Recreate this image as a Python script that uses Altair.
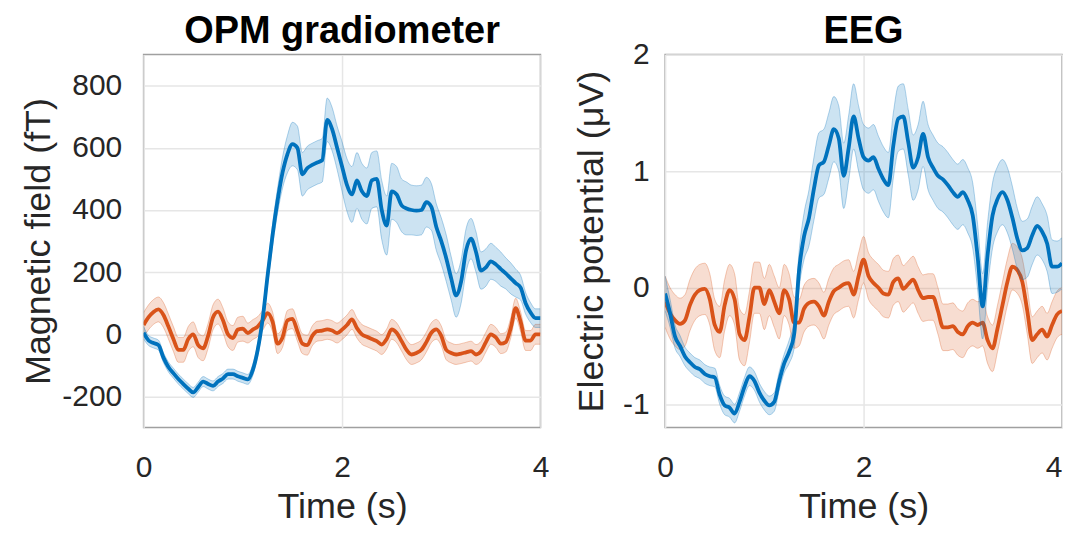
import altair as alt
import pandas as pd

# sample grid (s)
TIME = [round(0.05 * i, 2) for i in range(81)]

# OPM gradiometer (fT)
OPM_BLUE = [5, -20, -28, -35, -75, -105, -125, -144, -160, -175,
            -187, -170, -152, -160, -166, -152, -142, -128, -128, -135,
            -140, -145, -115, -50, 50, 190, 320, 430, 520, 580,
            612, 600, 515, 535, 545, 553, 560, 690, 660, 600,
            540, 480, 450, 495, 460, 445, 495, 500, 400, 350,
            460, 450, 415, 405, 400, 398, 400, 425, 410, 345,
            300, 245, 180, 125, 170, 270, 308, 265, 205, 215,
            235, 225, 210, 196, 180, 165, 150, 100, 70, 52,
            52]
OPM_BLUE_SEM = [20, 16, 16, 16, 16, 16, 16, 16, 16, 16,
                16, 16, 16, 16, 16, 16, 16, 16, 16, 16,
                16, 16, 18, 20, 25, 30, 35, 40, 50, 60,
                70, 70, 70, 70, 70, 70, 70, 70, 70, 70,
                80, 85, 90, 90, 90, 90, 90, 90, 95, 95,
                90, 90, 85, 85, 80, 80, 80, 80, 75, 75,
                75, 75, 70, 70, 70, 70, 65, 65, 60, 60,
                58, 55, 55, 50, 50, 45, 40, 35, 32, 30,
                30]
OPM_ORANGE = [30, 55, 72, 80, 62, 25, -15, -50, -50, -15,
              0, -35, -45, -5, 55, 73, 45, 0, -12, 15,
              18, 4, 15, 25, 45, 68, 40, -30, -10, 45,
              50, 10, -30, -35, -5, 10, 12, 16, 12, 4,
              15, 30, 48, 20, 0, -8, -15, -22, -33, -15,
              16, 5, -22, -50, -65, -60, -50, -25, 5, 16,
              -5, -50, -60, -65, -62, -58, -54, -65, -55, -25,
              0, -10, -30, -25, 20, 84, 40, -20, -20, 0,
              0]
OPM_ORANGE_SEM = [40] * 21 + [32] * 60

# EEG (µV)
EEG_BLUE = [-0.05, -0.22, -0.42, -0.50, -0.59, -0.64, -0.68, -0.70, -0.74, -0.76,
            -0.77, -0.92, -1.01, -1.03, -1.08, -0.98, -0.85, -0.76, -0.80, -0.90,
            -0.97, -1.01, -0.98, -0.80, -0.65, -0.55, -0.40, 0.15, 0.44, 0.60,
            0.85, 1.05, 1.08, 1.22, 1.36, 1.28, 0.96, 1.20, 1.47, 1.28,
            1.12, 1.09, 1.12, 1.02, 0.93, 0.88, 1.22, 1.45, 1.47, 1.25,
            1.03, 1.12, 1.32, 1.12, 1.03, 0.96, 0.93, 0.88, 0.82, 0.78,
            0.82, 0.75, 0.62, 0.26, -0.16, 0.28, 0.62, 0.76, 0.82, 0.75,
            0.60, 0.42, 0.32, 0.34, 0.45, 0.53, 0.48, 0.38, 0.18, 0.18,
            0.21]
EEG_BLUE_SEM = [0.15, 0.12, 0.10, 0.09, 0.08, 0.08, 0.08, 0.08, 0.08, 0.08,
                0.08, 0.08, 0.08, 0.08, 0.08, 0.08, 0.08, 0.08, 0.08, 0.08,
                0.08, 0.08, 0.08, 0.08, 0.08, 0.10, 0.12, 0.16, 0.20, 0.24,
                0.27, 0.28, 0.28, 0.28, 0.28, 0.28, 0.28, 0.28, 0.28, 0.28,
                0.28, 0.28, 0.28, 0.28, 0.28, 0.28, 0.28, 0.28, 0.28, 0.28,
                0.28, 0.28, 0.28, 0.28, 0.28, 0.28, 0.28, 0.28, 0.28, 0.28,
                0.28, 0.28, 0.28, 0.28, 0.28, 0.28, 0.28, 0.28, 0.28, 0.28,
                0.27, 0.26, 0.25, 0.25, 0.25, 0.25, 0.24, 0.24, 0.23, 0.22,
                0.22]
EEG_ORANGE = [-0.12, -0.22, -0.28, -0.31, -0.28, -0.15, -0.06, -0.02, -0.01, -0.10,
              -0.32, -0.38, -0.15, -0.02, -0.10, -0.40, -0.45, -0.25, 0.00, 0.00,
              -0.14, -0.02, -0.12, -0.22, -0.02, -0.10, -0.30, -0.30, -0.18, -0.13,
              -0.12, -0.16, -0.24, -0.12, -0.03, 0.00, 0.03, 0.04, -0.06, 0.10,
              0.24, 0.10, 0.04, 0.00, -0.05, -0.06, 0.05, 0.08, -0.01, 0.03,
              0.07, -0.02, -0.09, -0.08, -0.08, -0.20, -0.34, -0.34, -0.33, -0.38,
              -0.40, -0.33, -0.30, -0.32, -0.30, -0.45, -0.52, -0.35, -0.15, 0.05,
              0.18, 0.15, 0.05, -0.20, -0.45, -0.40, -0.36, -0.42, -0.32, -0.23,
              -0.20]
EEG_ORANGE_SEM = [0.22] * 27 + [0.20] * 54

BLUE = "#0072BD"
ORANGE = "#D95319"
FONT = "Liberation Sans"
TXT = "#262626"


def frame(mean, sem):
    return pd.DataFrame({
        "t": TIME,
        "m": mean,
        "lo": [a - b for a, b in zip(mean, sem)],
        "hi": [a + b for a, b in zip(mean, sem)],
    })


def panel(title, ytitle, blue, bsem, orange, osem, ydom, yvals,
          lpad, tpad, toff, xalign):
    xs = alt.Scale(domain=[0, 4], nice=False, zero=False)
    ys = alt.Scale(domain=ydom, nice=False, zero=False)
    xax = alt.Axis(values=[0, 2, 4], title="Time (s)", grid=True,
                   labelPadding=25, titlePadding=7, labelFlush=False,
                   labelAlign=xalign,
                   labelExpr="'' + datum.value")
    yax = alt.Axis(values=yvals, title=ytitle, grid=True,
                   labelPadding=lpad, titlePadding=tpad,
                   labelExpr="'' + datum.value")
    layers = []
    for df_, col in ((frame(orange, osem), ORANGE), (frame(blue, bsem), BLUE)):
        base = alt.Chart(df_)
        band = base.mark_area(color=col, opacity=0.2, clip=True,
                              interpolate="monotone").encode(
            x=alt.X("t:Q", scale=xs, axis=xax),
            y=alt.Y("lo:Q", scale=ys, axis=yax),
            y2="hi:Q")
        e1 = base.mark_line(color=col, opacity=0.3, strokeWidth=1,
                            clip=True, interpolate="monotone").encode(
            x=alt.X("t:Q", scale=xs), y=alt.Y("lo:Q", scale=ys))
        e2 = base.mark_line(color=col, opacity=0.3, strokeWidth=1,
                            clip=True, interpolate="monotone").encode(
            x=alt.X("t:Q", scale=xs), y=alt.Y("hi:Q", scale=ys))
        line = base.mark_line(color=col, strokeWidth=3.8, clip=True,
                              interpolate="monotone").encode(
            x=alt.X("t:Q", scale=xs), y=alt.Y("m:Q", scale=ys))
        layers += [band, e1, e2, line]
    return alt.layer(*layers).properties(
        width=398, height=374,
        title=alt.TitleParams(title, fontSize=38, fontWeight="bold",
                              font=FONT, color="#000000", offset=toff,
                              frame="group"))


left = panel("OPM gradiometer", "Magnetic field (fT)",
             OPM_BLUE, OPM_BLUE_SEM, OPM_ORANGE, OPM_ORANGE_SEM,
             [-300, 900], [-200, 0, 200, 400, 600, 800], 22, 4, 4,
             "center")
right = panel("EEG", "Electric potential (μV)",
              EEG_BLUE, EEG_BLUE_SEM, EEG_ORANGE, EEG_ORANGE_SEM,
              [-1.2, 2], [-1, 0, 1, 2], 16, 12, -11,
              {"condition": {"test": "datum.value == 4", "value": "right"},
               "value": "center"})

chart = alt.hconcat(left, right, spacing=22).properties(
    padding={"left": 12, "top": 3, "right": 0, "bottom": 0}
).configure_view(
    stroke="#a0a0a0", strokeWidth=1.5
).configure_axis(
    labelFont=FONT, titleFont=FONT, labelFontSize=30, titleFontSize=36,
    titleFontWeight="normal", labelColor=TXT, titleColor=TXT,
    ticks=False, domain=False, gridColor="#e6e6e6", gridWidth=1.5
)

chart.save("out.html", embed_options={"renderer": "svg", "actions": False})
